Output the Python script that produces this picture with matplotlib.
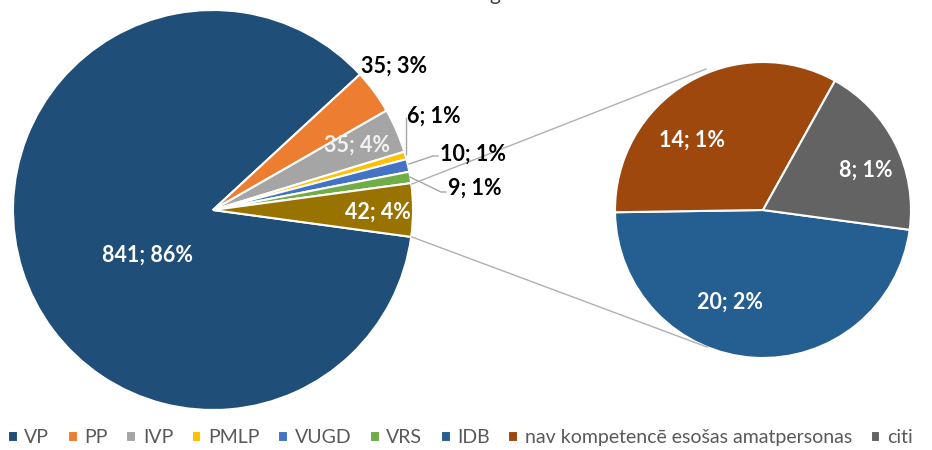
import matplotlib
matplotlib.use("Agg")
import matplotlib.pyplot as plt

plt.rcParams['font.family'] = ['Lato', 'DejaVu Sans']

# main pie
main_names = ["VP", "PP", "IVP", "PMLP", "VUGD", "VRS", "citi kopā"]
main_values = [841, 35, 35, 6, 10, 9, 42]
main_labels = ["841; 86%", "35; 3%", "35; 4%", "6; 1%", "10; 1%", "9; 1%", "42; 4%"]
main_colors = ["#1F4E79", "#ED7D31", "#A5A5A5", "#FFC000", "#4472C4", "#70AD47", "#997300"]

# secondary pie (breakdown of the 42)
sub_names = ["IDB", "nav kompetencē esošas amatpersonas", "citi"]
sub_values = [20, 14, 8]
sub_labels = ["20; 2%", "14; 1%", "8; 1%"]
sub_colors = ["#255E91", "#9E480E", "#636363"]

H = 450
def Y(y):
    return H - y

fig = plt.figure(figsize=(9.32, 4.5), dpi=100)
ax = fig.add_axes([0, 0, 1, 1])

other_deg = main_values[-1] / sum(main_values) * 360
start = -other_deg / 2

w_main, _ = ax.pie(main_values, colors=main_colors, startangle=start, counterclock=False,
                   center=(213, Y(210)), radius=200,
                   wedgeprops=dict(edgecolor="white", linewidth=1.5))
w_sub, _ = ax.pie(sub_values, colors=sub_colors, startangle=-7.7, counterclock=False,
                  center=(763, Y(210)), radius=148,
                  wedgeprops=dict(edgecolor="white", linewidth=1.5))

ax.set_xlim(0, 932)
ax.set_ylim(0, H)
ax.set_aspect("equal")
ax.axis("off")

# connector lines between the pies
ax.plot([412, 706], [Y(184), Y(69)], color="#B0B0B0", lw=1)
ax.plot([412, 707], [Y(237), Y(347)], color="#B0B0B0", lw=1)

# leader lines for small slices
lc = "#A6A6A6"
ax.plot([406, 406], [Y(154), Y(118)], color=lc, lw=1)
ax.plot([409, 433, 438], [Y(164), Y(156), Y(156)], color=lc, lw=1)
ax.plot([410, 441, 446], [Y(177), Y(192), Y(192)], color=lc, lw=1)

fs = 15.5
tk = dict(fontsize=fs, fontweight="bold", va="center")
ax.text(147, Y(255), main_labels[0], color="white", ha="center", **tk)
ax.text(394, Y(66), main_labels[1], color="black", ha="center", **tk)
ax.text(357, Y(145), main_labels[2], color="#F2F2F2", ha="center", **tk)
ax.text(407, Y(116), main_labels[3], color="black", ha="left", **tk)
ax.text(440, Y(154), main_labels[4], color="black", ha="left", **tk)
ax.text(448, Y(188), main_labels[5], color="black", ha="left", **tk)
ax.text(378, Y(212), main_labels[6], color="white", ha="center", **tk)

ax.text(730, Y(302), sub_labels[0], color="white", ha="center", **tk)
ax.text(692, Y(140), sub_labels[1], color="white", ha="center", **tk)
ax.text(866, Y(170), sub_labels[2], color="white", ha="center", **tk)

# title cut off at the top edge (as in the source image)
ax.text(495, H + 6, "g", fontsize=15, color="#404040", ha="center", va="center")

handles = w_main[:6] + [w_sub[0], w_sub[1], w_sub[2]]
names = main_names[:6] + sub_names
fig.legend(handles, names, loc="lower center", bbox_to_anchor=(0.494, -0.03), ncol=9,
           frameon=False, fontsize=14, labelcolor="#595959",
           handlelength=0.5, handleheight=0.5, handletextpad=0.35, columnspacing=0.95)

fig.savefig("out.png", dpi=100)
